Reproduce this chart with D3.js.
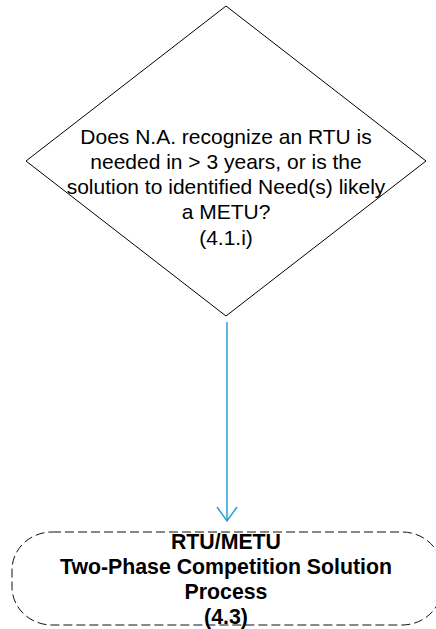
<!DOCTYPE html>
<html>
<head>
<meta charset="utf-8">
<script src="https://cdn.jsdelivr.net/npm/d3@7"></script>
<style>
  html, body { margin: 0; padding: 0; background: #fff; }
  svg { display: block; }
</style>
</head>
<body>
<svg id="flow" width="436" height="629"></svg>
<script>
// Text of the two nodes
const decisionLines = [
  "Does N.A. recognize an RTU is",
  "needed in > 3 years, or is the",
  "solution to identified Need(s) likely",
  "a METU?",
  "(4.1.i)"
];
const processLines = [
  "RTU/METU",
  "Two-Phase Competition Solution",
  "Process",
  "(4.3)"
];
const nodes = ["decision", "process"];

const svg = d3.select("#flow");
const cx = 226;
const font = "Liberation Sans, Arial, sans-serif";

// Decision diamond
const diamond = { top: 6, bottom: 316, left: 26, right: 426 };
const midY = (diamond.top + diamond.bottom) / 2;

svg.append("path")
  .attr("d", `M${cx},${diamond.top} L${diamond.right},${midY} L${cx},${diamond.bottom} L${diamond.left},${midY} Z`)
  .attr("fill", "#fff")
  .attr("stroke", "#000")
  .attr("stroke-width", 1);

const lineY = d3.scaleLinear().domain([0, 1]).range([136, 161.3]);

svg.append("g")
  .selectAll("text")
  .data(decisionLines)
  .join("text")
  .attr("x", cx)
  .attr("y", (d, i) => lineY(i))
  .attr("text-anchor", "middle")
  .attr("dominant-baseline", "central")
  .attr("font-family", font)
  .attr("font-size", "21px")
  .attr("fill", "#000")
  .text(d => d);

// Connector arrow
const arrowTop = 322, arrowBottom = 521;
svg.append("line")
  .attr("x1", cx + 1).attr("y1", arrowTop)
  .attr("x2", cx + 1).attr("y2", arrowBottom)
  .attr("stroke", "#2a9fd6")
  .attr("stroke-width", 1.5);

svg.append("path")
  .attr("d", `M${cx - 9},${arrowBottom - 14} L${cx + 1},${arrowBottom} L${cx + 11},${arrowBottom - 14}`)
  .attr("fill", "none")
  .attr("stroke", "#2a9fd6")
  .attr("stroke-width", 1.5);

// Terminal (dashed rounded box)
const box = { x: 12, y: 532, w: 430, h: 93 };
svg.append("rect")
  .attr("x", box.x).attr("y", box.y)
  .attr("width", box.w).attr("height", box.h)
  .attr("rx", 40).attr("ry", 38)
  .attr("fill", "none")
  .attr("stroke", "#111")
  .attr("stroke-width", 1)
  .attr("stroke-dasharray", "9,4");

const procY = d3.scaleLinear().domain([0, 1]).range([542, 567]);

svg.append("g")
  .selectAll("text")
  .data(processLines)
  .join("text")
  .attr("x", cx)
  .attr("y", (d, i) => procY(i))
  .attr("text-anchor", "middle")
  .attr("dominant-baseline", "central")
  .attr("font-family", font)
  .attr("font-size", "21.3px")
  .attr("font-weight", "bold")
  .attr("fill", "#000")
  .text(d => d);
</script>
</body>
</html>
